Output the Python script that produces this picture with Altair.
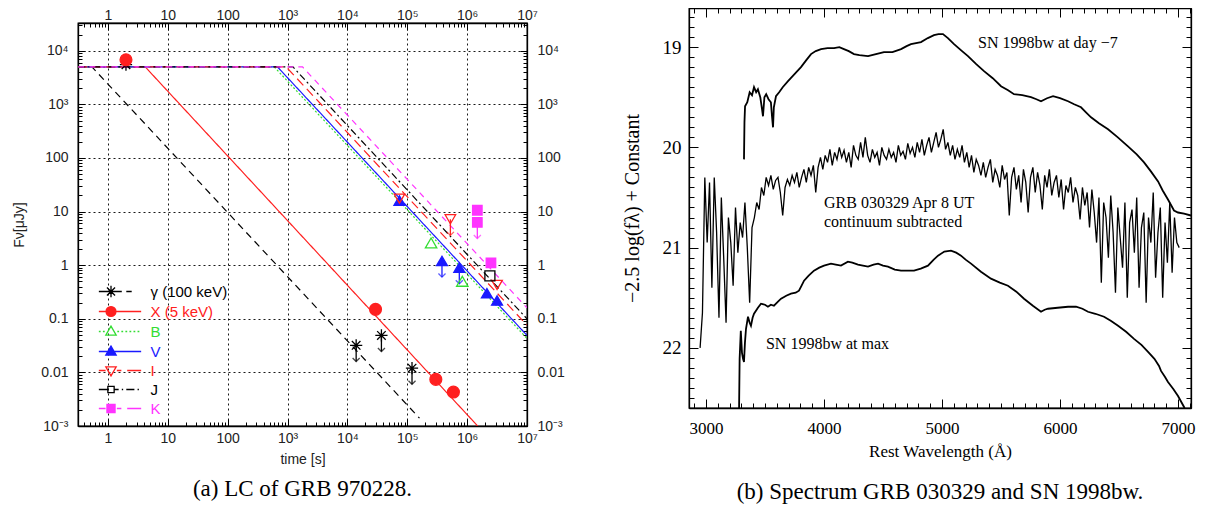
import altair as alt
import pandas as pd

# ---------------------------------------------------------------- panel (a)
STAR = "M-1,0L1,0M0,-1L0,1M-0.7,-0.7L0.7,0.7M-0.7,0.7L0.7,-0.7"
ARROWHEAD = "M-1,-1L0,0L1,-1"

BANDS = ["γ (100 keV)", "X (5 keV)", "B", "V", "I", "J", "K"]
BAND_COLORS = ["#000000", "#ff2020", "#33dd33", "#1a1aff", "#ff2020", "#000000", "#ff33ff"]
BAND_FILL = ["transparent", "#ff2020", "transparent", "#1a1aff", "transparent", "transparent", "#ff33ff"]
BAND_DASH = [[7, 5], [1, 0], [2, 2], [1, 0], [9, 5], [7, 3, 2, 3], [6, 5]]
BAND_SHAPES = [STAR, "circle", "triangle-up", "triangle-up", "triangle-down", "square", "square"]
BAND_SIZES = [150, 90, 60, 55, 70, 35, 55]

# legend symbols: marker + line style drawn as one path
_CIRC = "M-1.1,0A1.1,1.1 0 1,0 1.1,0A1.1,1.1 0 1,0 -1.1,0Z"
_TUP = "M0,-1.2L1.15,0.8L-1.15,0.8Z"
_TDN = "M0,1.2L1.15,-0.8L-1.15,-0.8Z"
_SQ = "M-0.9,-0.9L0.9,-0.9L0.9,0.9L-0.9,0.9Z"
_SQS = "M-0.7,-0.7L0.7,-0.7L0.7,0.7L-0.7,0.7Z"
_STAR = "M-1.3,0L1.3,0M0,-1.3L0,1.3M-0.9,-0.9L0.9,0.9M-0.9,0.9L0.9,-0.9"
LEGEND_PATHS = [
    "M-2.7,0L-1.3,0M1.3,0L2.4,0M3.4,0L4.6,0" + _STAR,
    "M-2.7,0L6.7,0" + _CIRC,
    "M-2.7,0L-2.3,0M-1.8,0L-1.4,0M1.4,0L1.8,0M2.3,0L2.7,0M3.2,0L3.6,0M4.1,0L4.5,0M5.0,0L5.4,0M5.9,0L6.3,0" + _TUP,
    "M-2.7,0L6.7,0" + _TUP,
    "M-2.7,0L-1.2,0M1.3,0L2.3,0M3.6,0L6.7,0" + _TDN,
    "M-2.7,0L-0.8,0M0.8,0L1.7,0M2.4,0L2.7,0M3.4,0L5.2,0M5.9,0L6.2,0" + _SQS,
    "M-2.7,0L-1.2,0M1.3,0L2.3,0M3.6,0L6.7,0" + _SQ,
]

X_MIN_A, X_MAX_A = 0.316, 1e7
Y_MIN_A, Y_MAX_A = 1e-3, 33000

# afterglow model: flat at MODEL_F_FLAT, then power-law decline
MODEL_T_START = 0.32
MODEL_F_FLAT = 5000.0
MODEL_T_BREAK = [0.54, 4.2, 600, 680, 950, 1230, 1780]
MODEL_T_END = [1.6e5, 1.5e6, 1e7, 1e7, 1e7, 1e7, 1e7]
MODEL_F_END = [1.4e-3, 1.0e-3, 0.043, 0.049, 0.076, 0.10, 0.16]

# observations (limit = 1 -> upper limit)
OBS_BAND = ["γ (100 keV)"] * 4 + ["X (5 keV)"] * 4 + ["B"] * 2 + ["V"] * 5 + ["I"] * 3 + ["J"] + ["K"] * 3
OBS_T = [2, 14000, 37000, 120000,
         2, 29500, 300000, 590000,
         250000, 830000,
         74000, 380000, 740000, 2140000, 3160000,
         74000, 525000, 3160000,
         2400000,
         1480000, 1480000, 2500000]
OBS_F = [5500, 0.032, 0.049, 0.012,
         6800, 0.15, 0.0074, 0.0043,
         2.6, 0.5,
         16, 1.2, 0.9, 0.30, 0.22,
         17.5, 7.2, 0.43,
         0.63,
         10.6, 6.3, 1.1]
OBS_LIMIT = [0, 1, 1, 1,
             0, 0, 0, 0,
             0, 0,
             0, 1, 1, 0, 0,
             0, 1, 0,
             0,
             0, 1, 0]

XA_LABEL_VALUES = [1, 10, 100, 1e3, 1e4, 1e5, 1e6, 1e7]
XA_LABELS = ["1", "10", "100", "10³", "10⁴", "10⁵", "10⁶", "10⁷"]
YA_LABEL_VALUES = [1e-3, 0.01, 0.1, 1, 10, 100, 1e3, 1e4]
YA_LABELS = ["10⁻³", "0.01", "0.1", "1", "10", "100", "10³", "10⁴"]

# ---------------------------------------------------------------- panel (b)
SN7_WL = [3322, 3326, 3331, 3350, 3370, 3390, 3407, 3425, 3440, 3460, 3475, 3483, 3495, 3510,
          3530, 3550, 3560, 3568, 3575, 3593, 3620, 3650, 3695, 3750, 3805, 3850, 3890, 3930,
          3975, 4030, 4085, 4130, 4169, 4210, 4254, 4300, 4373, 4440, 4508, 4580, 4653, 4700,
          4737, 4822, 4880, 4932, 4970, 5008, 5050, 5102, 5160, 5220, 5290, 5356, 5430, 5500,
          5560, 5610, 5680, 5754, 5800, 5839, 5890, 5941, 6000, 6068, 6120, 6178, 6220, 6263,
          6330, 6407, 6490, 6576, 6650, 6712, 6770, 6831, 6870, 6915, 6966, 7000, 7051, 7110]
SN7_MAG = [20.12, 19.75, 19.59, 19.55, 19.45, 19.48, 19.40, 19.45, 19.42, 19.50, 19.62, 19.69, 19.50, 19.47,
           19.52, 19.55, 19.70, 19.80, 19.60, 19.49, 19.45, 19.40, 19.34, 19.27, 19.20, 19.13, 19.07, 19.04,
           19.02, 19.01, 19.01, 19.00, 19.02, 19.04, 19.07, 19.08, 19.09, 19.07, 19.05, 19.05, 19.02, 18.99,
           18.97, 18.95, 18.91, 18.88, 18.87, 18.87, 18.91, 18.97, 19.03, 19.09, 19.17, 19.24, 19.31, 19.39,
           19.43, 19.47, 19.48, 19.50, 19.52, 19.54, 19.51, 19.49, 19.51, 19.54, 19.57, 19.60, 19.65, 19.70,
           19.76, 19.82, 19.90, 19.99, 20.07, 20.15, 20.24, 20.34, 20.43, 20.52, 20.63, 20.65, 20.66, 20.68]

SNMAX_WL = [3280, 3285, 3295, 3305, 3314, 3322, 3330, 3339, 3356, 3370, 3381, 3395, 3407, 3440,
            3466, 3500, 3525, 3550, 3576, 3610, 3636, 3680, 3720, 3760, 3788, 3810, 3831, 3870,
            3915, 3960, 4000, 4059, 4100, 4144, 4203, 4240, 4288, 4330, 4373, 4420, 4458, 4500,
            4542, 4600, 4653, 4710, 4763, 4820, 4881, 4930, 4966, 5020, 5076, 5120, 5161, 5200,
            5246, 5330, 5415, 5490, 5559, 5630, 5695, 5770, 5839, 5870, 5898, 5980, 6068, 6136,
            6190, 6237, 6300, 6373, 6430, 6492, 6560, 6627, 6690, 6746, 6800, 6839, 6856, 6890,
            6915, 6960, 7000, 7051, 7070]
SNMAX_MAG = [22.65, 22.11, 21.83, 22.05, 22.11, 22.14, 21.95, 21.81, 21.69, 21.75, 21.78, 21.70, 21.66, 21.60,
             21.56, 21.57, 21.59, 21.57, 21.58, 21.54, 21.51, 21.48, 21.46, 21.45, 21.43, 21.38, 21.33, 21.28,
             21.23, 21.20, 21.18, 21.16, 21.17, 21.18, 21.14, 21.15, 21.17, 21.18, 21.19, 21.17, 21.16, 21.18,
             21.19, 21.22, 21.23, 21.23, 21.23, 21.21, 21.18, 21.12, 21.08, 21.04, 21.03, 21.05, 21.08, 21.12,
             21.16, 21.24, 21.31, 21.35, 21.38, 21.44, 21.51, 21.58, 21.64, 21.62, 21.61, 21.60, 21.59, 21.59,
             21.61, 21.64, 21.66, 21.69, 21.73, 21.78, 21.84, 21.91, 21.97, 22.04, 22.11, 22.18, 22.23, 22.29,
             22.34, 22.41, 22.48, 22.59, 22.65]

GRB_WL = list(range(2950, 7011, 20))
GRB_MAG = [
    22.00, 21.65, 20.30, 20.95, 20.35, 21.40, 20.30, 20.85, 21.70, 20.50,
    21.10, 21.75, 20.70, 20.95, 21.38, 20.60, 21.05, 20.75, 20.90, 20.55,
    21.00, 21.55, 20.80, 20.70, 20.55, 20.62, 20.40, 20.48, 20.30, 20.38,
    20.28, 20.42, 20.33, 20.30, 20.45, 20.68, 20.40, 20.32, 20.38, 20.28,
    20.35, 20.25, 20.40, 20.30, 20.22, 20.35, 20.20, 20.28, 20.18, 20.45,
    20.20, 20.10, 20.22, 20.08, 20.15, 20.02, 20.18, 20.05, 20.12, 20.00,
    20.10, 20.03, 20.15, 20.05, 20.20, 19.98, 20.08, 20.12, 19.95, 20.10,
    19.90, 20.08, 20.15, 20.02, 20.10, 20.05, 20.18, 20.00, 20.08, 20.12,
    20.02, 20.10, 20.05, 20.15, 19.98, 20.08, 20.04, 20.12, 19.96, 20.06,
    20.00, 20.10, 19.95, 20.05, 19.92, 20.08, 19.98, 19.90, 20.05, 19.95,
    19.85, 20.00, 19.92, 19.82, 20.02, 19.95, 20.08, 19.98, 20.12, 20.02,
    20.10, 19.98, 20.15, 20.05, 20.20, 20.08, 20.25, 20.12, 20.18, 20.28,
    20.15, 20.30, 20.20, 20.12, 20.35, 20.22, 20.28, 20.40, 20.18, 20.32,
    20.25, 20.68, 20.30, 20.20, 20.42, 20.28, 20.55, 20.22, 20.35, 20.65,
    20.30, 20.20, 20.45, 20.25, 20.38, 20.62, 20.28, 20.40, 20.22, 20.48,
    20.35, 20.28, 20.50, 20.32, 20.62, 20.38, 20.45, 20.30, 20.55, 20.40,
    20.48, 20.72, 20.40, 20.58, 20.45, 20.80, 20.42, 20.65, 20.95, 20.50,
    21.35, 20.55, 20.70, 21.10, 20.48, 20.85, 21.45, 20.60, 20.90, 21.20,
    20.55, 21.50, 20.75, 20.62, 21.05, 20.50, 21.40, 20.80, 20.65, 21.55,
    20.70, 20.95, 20.45, 21.30, 20.85, 20.60, 21.50, 20.75, 21.15, 20.55,
    21.25, 20.70, 20.95, 21.00,
]

ANN_TEXT = ["SN 1998bw at day −7", "GRB 030329 Apr 8 UT", "continuum subtracted", "SN 1998bw at max"]
ANN_WL = [5305, 4000, 4000, 3508]
ANN_MAG = [18.96, 20.555, 20.745, 21.96]

X_MIN_B, X_MAX_B = 2856, 7110
Y_MIN_B, Y_MAX_B = 18.61, 22.6
XB_LABEL_VALUES = [3000, 4000, 5000, 6000, 7000]
XB_LABELS = ["3000", "4000", "5000", "6000", "7000"]
YB_LABEL_VALUES = [19, 20, 21, 22]
YB_LABELS = ["19", "20", "21", "22"]

CAPTION_A = "(a) LC of GRB 970228."
CAPTION_B = "(b) Spectrum GRB 030329 and SN 1998bw."


# ---------------------------------------------------------------- helpers
def label_expr(values, labels):
    parts = [f"abs(datum.value - {v}) < {abs(v) * 1e-4} ? '{lab}'" for v, lab in zip(values, labels)]
    return " : ".join(parts) + " : ''"


def log_ticks(lo, hi):
    out = []
    for n in range(-4, 9):
        for k in range(1, 10):
            v = float(f"{k}e{n}")
            if lo * 0.9999 <= v <= hi * 1.0001:
                out.append(v)
    return out


DEC = "abs(log(datum.value)/LN10 - round(log(datum.value)/LN10)) < 0.0001"


def axis_a(orient, values, lvals, labels, title=None, grid=False, pad=12):
    return alt.Axis(
        orient=orient, values=values, labelExpr=label_expr(lvals, labels), title=title,
        grid=grid, gridColor="black", gridDash=[2, 3], gridWidth=1,
        gridOpacity={"condition": {"test": DEC, "value": 0.9}, "value": 0},
        tickSize={"condition": {"test": DEC, "value": -7}, "value": -4},
        tickColor="black", tickWidth=1, domainColor="black", domainWidth=1.3,
        labelFont="Liberation Sans", labelFontSize=14, labelColor="#222",
        labelPadding=pad, labelFlush=False, labelOverlap=False,
        titleFont="Liberation Sans", titleFontSize=14, titleFontWeight="normal",
        titleColor="#222", titlePadding=14 if orient == "left" else 4,
    )


def axis_b(orient, values, test, lvals=None, labels=None, title=None, show=True):
    kw = dict(
        orient=orient, values=values, title=title, grid=False,
        tickSize={"condition": {"test": test, "value": -9}, "value": -5},
        tickColor="black", tickWidth=1, domainColor="black", domainWidth=1.3,
        labelFont="Liberation Serif", labelColor="black",
        labelFlush=False, labelOverlap=False,
        titleFont="Liberation Serif", titleFontWeight="normal", titleColor="black",
    )
    if show:
        if orient in ("left", "right"):
            kw.update(labelExpr=label_expr(lvals, labels), labelPadding=17, labelFontSize=19,
                      titleFontSize=20, titlePadding=20)
        else:
            kw.update(labelExpr=label_expr(lvals, labels), labelPadding=21, labelFontSize=17,
                      titleFontSize=17, titlePadding=3)
    else:
        kw.update(labels=False)
    return alt.Axis(**kw)


# ---------------------------------------------------------------- data frames
model_rows = []
for b, tb, te, fe in zip(BANDS, MODEL_T_BREAK, MODEL_T_END, MODEL_F_END):
    model_rows += [
        {"band": b, "t": MODEL_T_START, "F": MODEL_F_FLAT, "k": 0},
        {"band": b, "t": tb, "F": MODEL_F_FLAT, "k": 1},
        {"band": b, "t": te, "F": fe, "k": 2},
    ]
model_df = pd.DataFrame(model_rows)
obs_df = pd.DataFrame({"band": OBS_BAND, "t": OBS_T, "F": OBS_F, "limit": OBS_LIMIT})
lim_df = obs_df[obs_df["limit"] == 1].copy()
lim_df["F_tip"] = lim_df["F"] / 2.0
legend_df = pd.DataFrame({"band": BANDS})

XS_A = alt.Scale(type="log", domain=[X_MIN_A, X_MAX_A], nice=False)
YS_A = alt.Scale(type="log", domain=[Y_MIN_A, Y_MAX_A], nice=False)
XT_A = log_ticks(X_MIN_A, X_MAX_A)
YT_A = log_ticks(Y_MIN_A, Y_MAX_A)

color_a = alt.Color("band:N", scale=alt.Scale(domain=BANDS, range=BAND_COLORS), legend=None)

lines = alt.Chart(model_df).mark_line(clip=True, strokeWidth=1.2).encode(
    x=alt.X("t:Q", scale=XS_A, axis=axis_a("bottom", XT_A, XA_LABEL_VALUES, XA_LABELS, "time [s]", True, 12)),
    y=alt.Y("F:Q", scale=YS_A, axis=axis_a("left", YT_A, YA_LABEL_VALUES, YA_LABELS, "Fν[μJy]", True, 17)),
    color=color_a,
    strokeDash=alt.StrokeDash("band:N", scale=alt.Scale(domain=BANDS, range=BAND_DASH), legend=None),
    order="k:Q",
)

points = alt.Chart(obs_df).mark_point(filled=False, clip=True, strokeWidth=1.3, opacity=1).encode(
    x=alt.X("t:Q", scale=XS_A, axis=axis_a("top", XT_A, XA_LABEL_VALUES, XA_LABELS, pad=8)),
    y=alt.Y("F:Q", scale=YS_A, axis=axis_a("right", YT_A, YA_LABEL_VALUES, YA_LABELS, pad=17)),
    stroke=alt.Stroke("band:N", scale=alt.Scale(domain=BANDS, range=BAND_COLORS), legend=None),
    fill=alt.Fill("band:N", scale=alt.Scale(domain=BANDS, range=BAND_FILL), legend=None),
    shape=alt.Shape("band:N", scale=alt.Scale(domain=BANDS, range=BAND_SHAPES), legend=None),
    size=alt.Size("band:N", scale=alt.Scale(domain=BANDS, range=BAND_SIZES), legend=None),
)

rules = alt.Chart(lim_df).mark_rule(strokeWidth=1.3, clip=True).encode(
    x=alt.X("t:Q", scale=XS_A, axis=None),
    y=alt.Y("F:Q", scale=YS_A, axis=None),
    y2="F_tip:Q",
    color=color_a,
)
heads = alt.Chart(lim_df).mark_point(shape=ARROWHEAD, filled=False, size=50, strokeWidth=1.3, clip=True).encode(
    x=alt.X("t:Q", scale=XS_A, axis=None),
    y=alt.Y("F_tip:Q", scale=YS_A, axis=None),
    color=color_a,
)

label_color_expr = " : ".join(
    f"datum.value == '{b}' ? '{c}'" for b, c in zip(BANDS, BAND_COLORS)) + " : 'black'"
LEG = alt.Legend(
    title=None, orient="none", legendX=25.5, legendY=261, symbolSize=81, symbolStrokeWidth=1.3,
    symbolOpacity=1, labelFont="Liberation Sans", labelFontSize=15,
    labelColor={"expr": label_color_expr}, labelOffset=32, rowPadding=3, padding=0, labelLimit=300,
)
legend_layer = alt.Chart(legend_df).mark_point(filled=False, opacity=0, strokeWidth=1.3).encode(
    stroke=alt.Stroke("band:N", scale=alt.Scale(domain=BANDS, range=BAND_COLORS), legend=LEG),
    fill=alt.Fill("band:N", scale=alt.Scale(domain=BANDS, range=BAND_FILL), legend=LEG),
    shape=alt.Shape("band:N", scale=alt.Scale(domain=BANDS, range=LEGEND_PATHS), legend=LEG),
)

left = alt.layer(lines, rules, heads, points, legend_layer).resolve_scale(
    color="independent", stroke="independent", fill="independent", shape="independent",
    strokeDash="independent", size="independent",
).resolve_axis(x="independent", y="independent").properties(
    width=449, height=403,
    title=alt.TitleParams(CAPTION_A, orient="bottom", anchor="middle", frame="group",
                          font="Liberation Serif", fontSize=23, fontWeight="normal",
                          color="black", offset=12),
)

# an empty, invisible strip above panel (a): it lets panel (a)'s top tick labels start
# level with the frame of panel (b), as in the original figure
spacer = alt.Chart(pd.DataFrame({"v": []})).mark_point(opacity=0, size=0).properties(
    width=449, height=1, view=alt.ViewBackground(stroke="transparent", fill="transparent"))

# ---------------------------------------------------------------- panel (b) chart
XS_B = alt.Scale(domain=[X_MIN_B, X_MAX_B], nice=False, zero=False)
YS_B = alt.Scale(domain=[Y_MIN_B, Y_MAX_B], nice=False, zero=False, reverse=True)
XT_B = list(range(2900, 7101, 100))
YT_B = [round(18.7 + 0.1 * i, 1) for i in range(40)]
XTEST = "datum.value % 1000 == 0"
YTEST = "abs(datum.value - round(datum.value)) < 0.01"

sn7 = alt.Chart(pd.DataFrame({"wl": SN7_WL, "mag": SN7_MAG})).mark_line(
    clip=True, color="black", strokeWidth=1.8).encode(
    x=alt.X("wl:Q", scale=XS_B, axis=axis_b("bottom", XT_B, XTEST, XB_LABEL_VALUES, XB_LABELS, "Rest Wavelength (Å)")),
    y=alt.Y("mag:Q", scale=YS_B, axis=axis_b("left", YT_B, YTEST, YB_LABEL_VALUES, YB_LABELS, "−2.5 log(fλ) + Constant")),
)
grb = alt.Chart(pd.DataFrame({"wl": GRB_WL, "mag": GRB_MAG})).mark_line(
    clip=True, color="black", strokeWidth=1.3).encode(
    x=alt.X("wl:Q", scale=XS_B, axis=None),
    y=alt.Y("mag:Q", scale=YS_B, axis=None),
)
snmax = alt.Chart(pd.DataFrame({"wl": SNMAX_WL, "mag": SNMAX_MAG})).mark_line(
    clip=True, color="black", strokeWidth=1.8).encode(
    x=alt.X("wl:Q", scale=XS_B, axis=None),
    y=alt.Y("mag:Q", scale=YS_B, axis=None),
)
ann = alt.Chart(pd.DataFrame({"wl": ANN_WL, "mag": ANN_MAG, "label": ANN_TEXT})).mark_text(
    align="left", baseline="middle", font="Liberation Serif", fontSize=16, color="black").encode(
    x=alt.X("wl:Q", scale=XS_B, axis=axis_b("top", XT_B, XTEST, show=False)),
    y=alt.Y("mag:Q", scale=YS_B, axis=axis_b("right", YT_B, YTEST, show=False)),
    text="label:N",
)

right = alt.layer(sn7, grb, snmax, ann).resolve_axis(x="independent", y="independent").properties(
    width=502, height=400,
    title=alt.TitleParams(CAPTION_B, orient="bottom", anchor="middle", frame="group",
                          font="Liberation Serif", fontSize=23, fontWeight="normal",
                          color="black", offset=22),
)

chart = alt.hconcat(alt.vconcat(spacer, left, spacing=-6), right, spacing=56).properties(
    padding={"left": 4, "top": -4, "right": 0, "bottom": 0}
).configure_view(stroke="black", strokeWidth=1.3)

chart.save("out.html", embed_options={"renderer": "svg", "actions": False})
